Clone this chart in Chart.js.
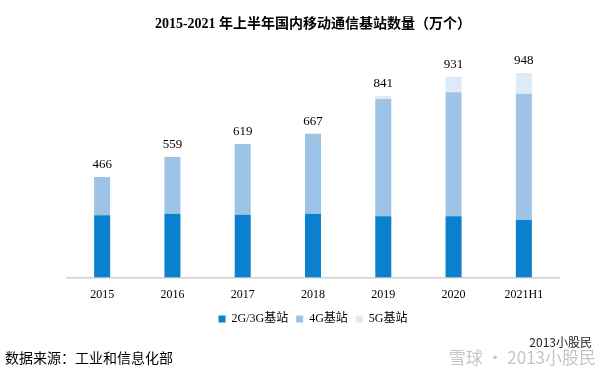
<!DOCTYPE html>
<html><head><meta charset="utf-8">
<script src="https://cdn.jsdelivr.net/npm/chart.js@4/dist/chart.umd.min.js"></script>
<style>html,body{margin:0;padding:0;background:#fff}#wrap{width:609px;height:373px}</style>
</head><body><div id="wrap"><canvas id="c" width="609" height="373"></canvas></div>
<script>
const categories = ['2015','2016','2017','2018','2019','2020','2021H1'];
const gen23 = [289, 296, 291, 295, 284, 284, 266];
const gen4 = [177, 263, 328, 372, 544, 575, 586];
const gen5 = [0, 0, 0, 0, 13, 72, 96];
const seriesNames = ['2G/3G基站', '4G基站', '5G基站'];
const titleText = '2015-2021 年上半年国内移动通信基站数量（万个）';
const sourceText = '数据来源：工业和信息化部';

const SERIF = '"Times New Roman", "Liberation Serif", "Noto Sans CJK SC", serif';

const totalsPlugin = {
  id: 'totals',
  afterDatasetsDraw(chart) {
    const ctx = chart.ctx;
    const y = chart.scales.y;
    const meta = chart.getDatasetMeta(0);
    ctx.save();
    ctx.font = '13px ' + SERIF;
    ctx.fillStyle = '#000';
    ctx.textAlign = 'center';
    ctx.textBaseline = 'bottom';
    categories.forEach((c, i) => {
      const total = gen23[i] + gen4[i] + gen5[i];
      ctx.fillText(String(total), meta.data[i].x, y.getPixelForValue(total) - 6);
    });
    ctx.restore();
  }
};
const footerPlugin = {
  id: 'footer',
  afterDraw(chart) {
    const ctx = chart.ctx;
    ctx.save();
    ctx.textBaseline = 'middle';
    ctx.fillStyle = '#000';
    ctx.font = '14px ' + SERIF;
    ctx.textAlign = 'left';
    ctx.fillText(sourceText, 5, 359);
    ctx.fillStyle = '#222';
    ctx.font = '12px "Noto Sans CJK SC", sans-serif';
    ctx.textAlign = 'right';
    ctx.fillText('2013小股民', 592, 342);
    ctx.fillStyle = 'rgba(150,150,150,0.55)';
    ctx.font = '17px "Noto Sans CJK SC", sans-serif';
    ctx.fillText('雪球 · 2013小股民', 596, 358);
    ctx.restore();
  }
};

new Chart(document.getElementById('c'), {
  type: 'bar',
  data: {
    labels: categories,
    datasets: [
      { label: seriesNames[0], data: gen23, backgroundColor: '#0a80ce' },
      { label: seriesNames[1], data: gen4, backgroundColor: '#9dc3e6' },
      { label: seriesNames[2], data: gen5, backgroundColor: '#deebf7' }
    ]
  },
  options: {
    responsive: false,
    animation: false,
    devicePixelRatio: 1,
    layout: { padding: { left: 67, right: 50, top: 0, bottom: 38 } },
    datasets: { bar: { categoryPercentage: 1, barPercentage: 0.228, borderWidth: 0 } },
    scales: {
      x: {
        stacked: true,
        grid: { display: false, drawTicks: false },
        border: { display: true, color: '#d0d0d0', width: 1.5 },
        ticks: { color: '#000', font: { family: SERIF, size: 12 }, padding: 10, maxRotation: 0 },
        afterFit(scale) { scale.height = 27.5; }
      },
      y: {
        stacked: true,
        display: false,
        min: 0,
        max: 1000
      }
    },
    plugins: {
      title: {
        display: true,
        text: titleText,
        color: '#000',
        font: { family: SERIF, size: 14, weight: 'bold', lineHeight: 1.2 },
        padding: { top: 15.5, bottom: 29.5 }
      },
      legend: {
        position: 'bottom',
        labels: {
          boxWidth: 7, boxHeight: 7, padding: 8, color: '#000',
          font: { family: SERIF, size: 12 }
        }
      },
      tooltip: { enabled: false }
    }
  },
  plugins: [totalsPlugin, footerPlugin]
});
</script></body></html>
